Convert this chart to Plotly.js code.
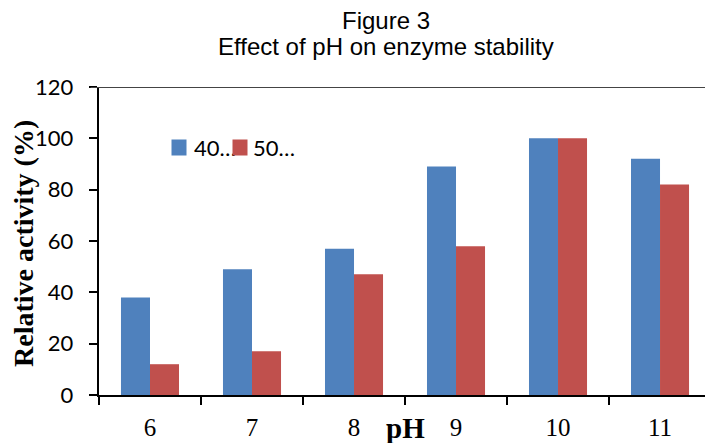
<!DOCTYPE html>
<html>
<head>
<meta charset="utf-8">
<script src="https://cdn.plot.ly/plotly-3.0.1.min.js"></script>
<style>html,body{margin:0;padding:0;background:#fff;}#chart{width:705px;height:443px;}</style>
</head>
<body>
<div id="chart"></div>
<script>
const categories = ["6", "7", "8", "9", "10", "11"];
const seriesNames = ["40…", "50…"];
const seriesColors = ["#4F81BD", "#C0504D"];
const series40 = [38, 49, 57, 89, 100, 92];
const series50 = [12, 17, 47, 58, 100, 82];
const yTicks = [0, 20, 40, 60, 80, 100, 120];
const titleLines = ["Figure 3", "Effect of pH on enzyme stability"];

const traces = [
  {type: "bar", x: categories, y: series40, name: seriesNames[0], marker: {color: seriesColors[0]}},
  {type: "bar", x: categories, y: series50, name: seriesNames[1], marker: {color: seriesColors[1]}}
];

const titleFont = {family: "Liberation Sans, Arial, sans-serif", size: 24, color: "#000"};
const legendFont = {family: "Lato, sans-serif", size: 22, color: "#000"};
const pxX = px => (px - 99) / 606;
const pxY = py => (395 - py) / 308;

function legendSquare(i, leftPx) {
  return {text: " ", xref: "paper", yref: "paper", x: pxX(leftPx), y: pxY(147.5),
    xanchor: "left", yanchor: "middle", showarrow: false, width: 14, height: 15,
    borderpad: 0, bgcolor: seriesColors[i], font: {size: 10}};
}
function legendText(i, leftPx) {
  return {text: seriesNames[i], xref: "paper", yref: "paper", x: pxX(leftPx), y: pxY(147),
    xanchor: "left", yanchor: "middle", showarrow: false, borderpad: 0, font: legendFont};
}

const layout = {
  width: 705, height: 443,
  margin: {l: 99, r: 0, t: 87, b: 48},
  paper_bgcolor: "#fff", plot_bgcolor: "#fff",
  barmode: "group", bargap: 0.431, bargroupgap: 0,
  showlegend: false,
  xaxis: {
    type: "category", range: [-0.5, 5.441],
    showline: true, linecolor: "#000", linewidth: 2,
    ticks: "outside", tickson: "boundaries", ticklen: 8, tickwidth: 2, tickcolor: "#000",
    tickfont: {family: "Liberation Serif, Times New Roman, serif", size: 25, color: "#000"},
    ticklabelstandoff: 9,
    showgrid: false, zeroline: false
  },
  yaxis: {
    range: [0, 120], tickvals: yTicks, ticktext: yTicks.map(v => v + "\u00a0\u00a0"),
    showline: true, linecolor: "#000", linewidth: 2,
    ticks: "outside", ticklen: 8, tickwidth: 2, tickcolor: "#000",
    tickfont: {family: "Lato, sans-serif", size: 22, color: "#000"},
    showgrid: false, zeroline: false
  },
  shapes: [
    {type: "line", xref: "paper", yref: "y", x0: -0.014, x1: 1, y0: 120, y1: 120, line: {color: "#444", width: 2}}
  ],
  annotations: [
    {text: titleLines[0], xref: "paper", yref: "paper", x: pxX(386), y: pxY(20),
     xanchor: "center", yanchor: "middle", showarrow: false, font: titleFont},
    {text: titleLines[1], xref: "paper", yref: "paper", x: pxX(386), y: pxY(47),
     xanchor: "center", yanchor: "middle", showarrow: false, font: titleFont},
    {text: "<b>Relative activity (%)</b>", xref: "paper", yref: "paper", x: pxX(23), y: pxY(244),
     xanchor: "center", yanchor: "middle", textangle: -90, showarrow: false,
     font: {family: "Liberation Serif, Times New Roman, serif", size: 28, color: "#000"}},
    {text: "<b>pH</b>", xref: "paper", yref: "paper", x: pxX(405), y: -0.107,
     xanchor: "center", yanchor: "middle", showarrow: false,
     font: {family: "Liberation Serif, Times New Roman, serif", size: 29, color: "#000"}},
    legendSquare(0, 171),
    legendText(0, 193),
    legendSquare(1, 232),
    legendText(1, 252)
  ]
};

Plotly.newPlot("chart", traces, layout, {displayModeBar: false, staticPlot: true});
</script>
</body>
</html>
